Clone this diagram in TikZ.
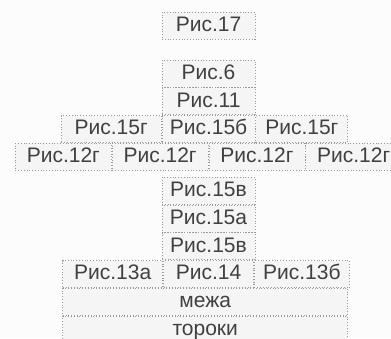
\documentclass[tikz,border=0pt]{standalone}
\usepackage{fontspec}
\setmainfont{Liberation Sans}
\usetikzlibrary{positioning}

\begin{document}
\begin{tikzpicture}[
  x=0.5pt, y=-0.5pt, font=\fontsize{10.5}{12}\selectfont,
  b/.style={draw=black!40, densely dotted, fill=black!4, text=black!75,
            inner sep=0pt, minimum height=13.5pt, text height=7.6pt, text depth=1.8pt},
  col/.style={b, minimum width=46.5pt},
  wide/.style={b, minimum width=142.5pt},
]
\useasboundingbox[fill=black!1] (0,0) rectangle (391,338);

% top of the stack
\node[col] (p17) at (208.5,25.5) {Рис.17};
\node[col] (p6) at (208.5,73.5) {Рис.6};
\node[col, below=0pt of p6] (p11) {Рис.11};

% row with three 15-s
\node[col, below=0pt of p11] (r15b) {Рис.15б};
\node[b, minimum width=50pt, left=0pt of r15b] (r15a) {Рис.15г};
\node[b, minimum width=46pt, right=0pt of r15b] (r15c) {Рис.15г};

% row with four 12-s, split at the middle of the stack
\node[b, minimum width=48pt, anchor=north east] (r12b) at (r15b.south) {Рис.12г};
\node[b, minimum width=48pt, left=0pt of r12b] (r12a) {Рис.12г};
\node[b, minimum width=48pt, anchor=north west] (r12c) at (r15b.south) {Рис.12г};
\node[b, minimum width=48pt, right=0pt of r12c] (r12d) {Рис.12г};

% lower stack
\node[col, below=3pt of r12b.south east] (p15v) {Рис.15в};
\node[col, below=0pt of p15v] (p15a) {Рис.15а};
\node[col, below=0pt of p15a] (p15w) {Рис.15в};

% row with 13-s and 14
\node[b, minimum width=45pt, below=0pt of p15w] (r14) {Рис.14};
\node[b, minimum width=50pt, left=0pt of r14] (r13a) {Рис.13а};
\node[b, minimum width=47.5pt, right=0pt of r14] (r13b) {Рис.13б};

% base
\node[wide, anchor=north west] (mezha) at (r13a.south west) {межа};
\node[wide, below=0pt of mezha] (toroki) {тороки};
\end{tikzpicture}
\end{document}
